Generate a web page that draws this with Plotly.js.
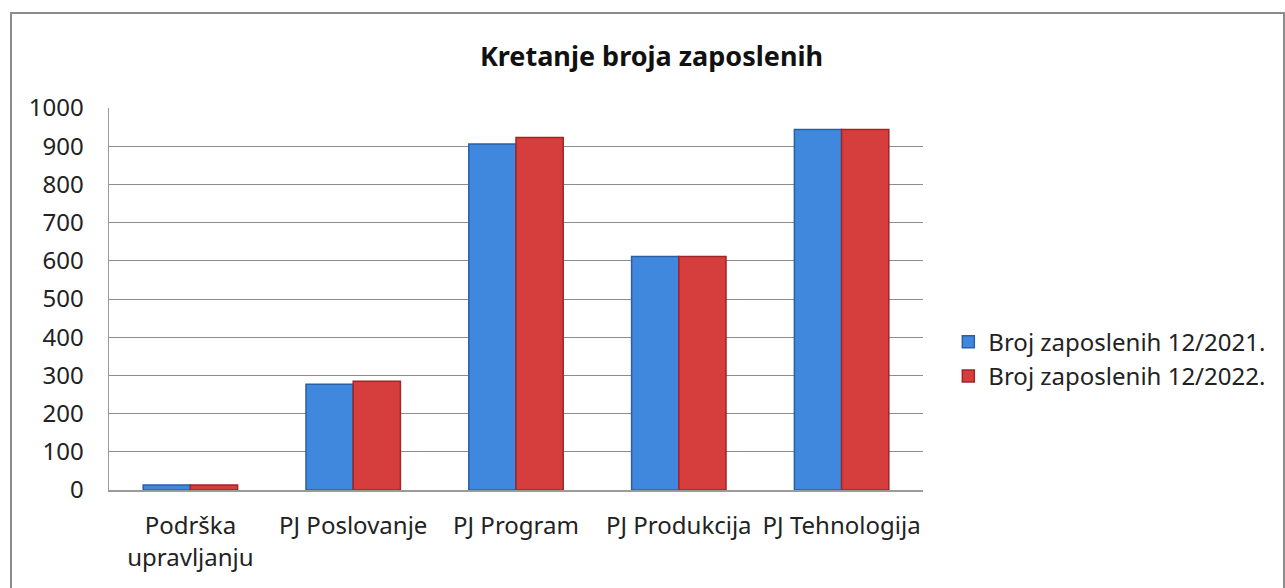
<!DOCTYPE html>
<html>
<head>
<meta charset="utf-8">
<script src="https://cdn.plot.ly/plotly-3.0.1.min.js"></script>
<style>
html,body{margin:0;padding:0;background:#fff;}
#wrap{position:relative;width:1285px;height:588px;overflow:hidden;}
#chart{position:absolute;left:0;top:0;width:1285px;height:588px;}
#frame{position:absolute;left:10px;top:12px;width:1271px;height:590px;border:2px solid #8c8c8c;pointer-events:none;}
</style>
</head>
<body>
<div id="wrap">
<div id="chart"></div>
<div id="frame"></div>
</div>
<script>
const categories = ["Podrška<br>upravljanju", "PJ Poslovanje", "PJ Program", "PJ Produkcija", "PJ Tehnologija"];
const series2021 = [13, 277, 906, 611, 944];
const series2022 = [13, 285, 923, 611, 944];
const seriesNames = ["Broj zaposlenih 12/2021.", "Broj zaposlenih 12/2022."];
const yTicks = [0, 100, 200, 300, 400, 500, 600, 700, 800, 900, 1000];

const font = "Noto Sans, Open Sans, sans-serif";

const traces = [
  {type: "bar", x: categories, y: series2021, name: seriesNames[0],
   marker: {color: "#4088dd", line: {color: "#2a5fa6", width: 1.5}}},
  {type: "bar", x: categories, y: series2022, name: seriesNames[1],
   marker: {color: "#d63e3e", line: {color: "#9e2626", width: 1.5}}}
];

const layout = {
  width: 1285, height: 588,
  margin: {l: 109, r: 362, t: 108, b: 98},
  paper_bgcolor: "#fff", plot_bgcolor: "#fff",
  barmode: "group", bargap: 0.42, bargroupgap: 0,
  font: {family: font, size: 24, color: "#222"},
  title: {text: "Kretanje broja zaposlenih", font: {family: font, size: 27, weight: 700, color: "#111"},
          x: 0.507, xref: "container", xanchor: "center", y: 0.903, yref: "container", yanchor: "middle"},
  xaxis: {showgrid: false, showline: true, linecolor: "#9a9a9a", linewidth: 1.5,
          ticks: "", ticklabelstandoff: 14,
          tickfont: {family: font, size: 24, color: "#222"}, automargin: false},
  yaxis: {range: [0, 1000], tickvals: yTicks, ticktext: yTicks.map(String),
          showgrid: true, gridcolor: "#8c8c8c", gridwidth: 1,
          showline: true, linecolor: "#9a9a9a", linewidth: 1.5, zeroline: false,
          ticks: "", ticklen: 0, ticklabelstandoff: 19,
          tickfont: {family: font, size: 24, color: "#222"}, automargin: false},
  legend: {x: 0.738, xref: "container", xanchor: "left", y: 0.389, yref: "container", yanchor: "middle",
           font: {family: font, size: 24, color: "#222"}, bgcolor: "rgba(0,0,0,0)", itemwidth: 30},
  showlegend: true
};

Plotly.newPlot("chart", traces, layout, {displayModeBar: false, staticPlot: true});
</script>
</body>
</html>
